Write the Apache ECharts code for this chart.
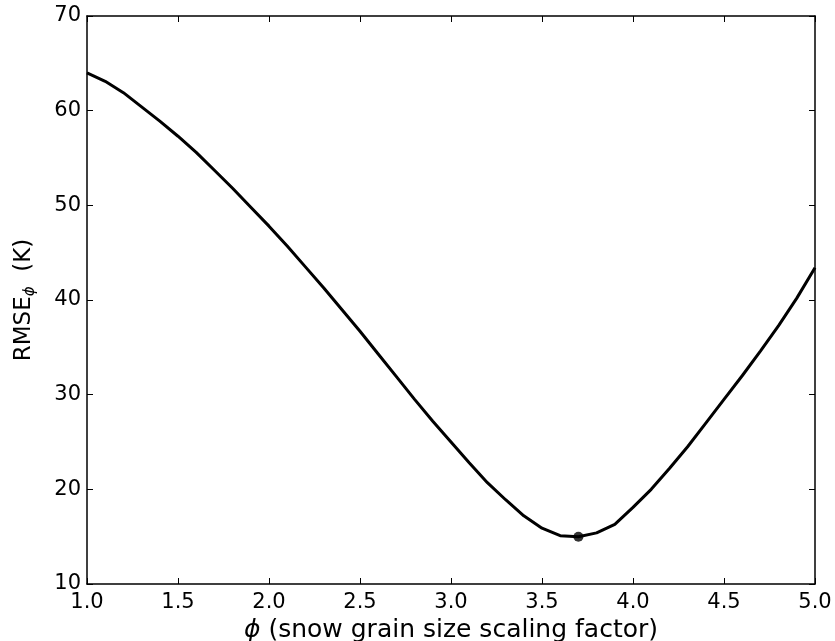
<!DOCTYPE html>
<html>
<head>
<meta charset="utf-8">
<script src="https://cdn.jsdelivr.net/npm/echarts@6/dist/echarts.min.js"></script>
<style>html,body{margin:0;padding:0;background:#fff}#c{width:835px;height:641px}</style>
</head>
<body>
<div id="c"></div>
<script>
var phiValues = [1.0,1.1,1.2,1.3,1.4,1.5,1.6,1.7,1.8,1.9,2.0,2.1,2.2,2.3,2.4,2.5,2.6,2.7,2.8,2.9,3.0,3.1,3.2,3.3,3.4,3.5,3.6,3.7,3.8,3.9,4.0,4.1,4.2,4.3,4.4,4.5,4.6,4.7,4.8,4.9,5.0];
var rmseValues = [64.0,63.1,61.9,60.4,58.9,57.3,55.6,53.7,51.8,49.8,47.8,45.7,43.5,41.3,39.0,36.7,34.3,31.9,29.5,27.2,25.0,22.8,20.7,18.9,17.2,15.9,15.1,15.0,15.4,16.3,18.1,20.0,22.2,24.5,27.0,29.5,32.0,34.6,37.3,40.2,43.4];
var minPoint = [3.7, 15.0];
var xTicks = [1.0,1.5,2.0,2.5,3.0,3.5,4.0,4.5,5.0];
var yTicks = [10,20,30,40,50,60,70];

var font = 'DejaVu Sans';
var lineData = phiValues.map(function(x,i){return [x, rmseValues[i]];});
var axisLineStyle = {show:true, lineStyle:{color:'#000', width:1.5}};
var tickStyle = {show:true, inside:true, length:6, lineStyle:{color:'#000', width:1}};

var chart = echarts.init(document.getElementById('c'), null, {renderer:'canvas'});
chart.setOption({
  animation:false,
  backgroundColor:'#fff',
  grid:{left:87, right:20, top:16, bottom:57, containLabel:false, outerBoundsMode:'none'},
  xAxis:[{
    type:'value', min:xTicks[0], max:xTicks[xTicks.length-1], interval:0.5,
    axisLine:axisLineStyle, axisTick:tickStyle, splitLine:{show:false},
    axisLabel:{color:'#000', fontFamily:font, fontSize:21, margin:8,
      formatter:function(v){return v.toFixed(1);}},
    name:'{phi|ϕ}{t| (snow grain size scaling factor)}', nameLocation:'middle', nameGap:31,
    nameTextStyle:{color:'#000', fontFamily:font, fontSize:25,
      rich:{phi:{fontStyle:'italic', fontFamily:font, fontSize:25, color:'#000'},
            t:{fontFamily:font, fontSize:25, color:'#000'}}}
  },{
    type:'value', position:'top', min:xTicks[0], max:xTicks[xTicks.length-1], interval:0.5,
    axisLine:axisLineStyle, axisTick:tickStyle, axisLabel:{show:false}, splitLine:{show:false}
  }],
  yAxis:[{
    type:'value', min:yTicks[0], max:yTicks[yTicks.length-1], interval:10,
    axisLine:axisLineStyle, axisTick:tickStyle, splitLine:{show:false},
    axisLabel:{color:'#000', fontFamily:font, fontSize:21, margin:6},
    name:'{t|RMSE}{sub|ϕ}{t|  (K)}', nameLocation:'middle', nameGap:49, nameRotate:90,
    nameTextStyle:{color:'#000', fontFamily:font, fontSize:23,
      rich:{t:{fontFamily:font, fontSize:23, color:'#000'},
            sub:{fontStyle:'italic', fontFamily:font, fontSize:15, color:'#000', padding:[12,0,0,0]}}}
  },{
    type:'value', position:'right', min:yTicks[0], max:yTicks[yTicks.length-1], interval:10,
    axisLine:axisLineStyle, axisTick:tickStyle, axisLabel:{show:false}, splitLine:{show:false}
  }],
  series:[{
    type:'line', data:lineData, smooth:false, showSymbol:false, symbol:'none',
    lineStyle:{color:'#000', width:3}, z:2
  },{
    type:'scatter', data:[minPoint], symbol:'circle', symbolSize:10,
    itemStyle:{color:'#000'}, z:3
  }]
});
</script>
</body>
</html>
